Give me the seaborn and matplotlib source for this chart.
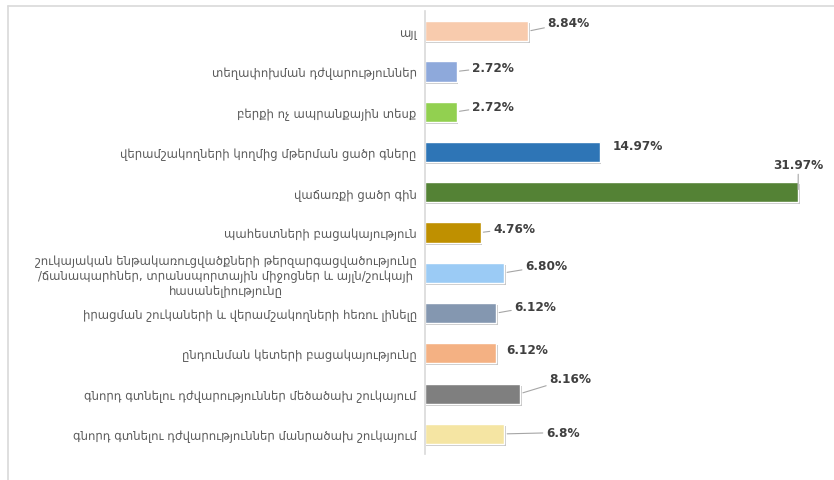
import matplotlib
matplotlib.use("Agg")
import matplotlib.pyplot as plt
import matplotlib.patheffects as pe
import seaborn as sns
import pandas as pd

# categories top to bottom, as in the chart
categories = [
    "այլ",
    "տեղափոխման դժվարություններ",
    "բերքի ոչ ապրանքային տեսք",
    "վերամշակողների կողմից մթերման ցածր գները",
    "վաճառքի ցածր գին",
    "պահեստների բացակայություն",
    "շուկայական ենթակառուցվածքների թերզարգացվածությունը\n/ճանապարհներ, տրանսպորտային միջոցներ և այլն/շուկայի\nհասանելիությունը",
    "իրացման շուկաների և վերամշակողների հեռու լինելը",
    "ընդունման կետերի բացակայությունը",
    "գնորդ գտնելու դժվարություններ մեծածախ շուկայում",
    "գնորդ գտնելու դժվարություններ մանրածախ շուկայում",
]
values = [8.84, 2.72, 2.72, 14.97, 31.97, 4.76, 6.80, 6.12, 6.12, 8.16, 6.8]
value_labels = ["8.84%", "2.72%", "2.72%", "14.97%", "31.97%", "4.76%",
                "6.80%", "6.12%", "6.12%", "8.16%", "6.8%"]
colors = ["#F8CBAD", "#8EA9DB", "#92D050", "#2E75B6", "#548235", "#BF9000",
          "#9BCBF5", "#8497B0", "#F4B183", "#7F7F7F", "#F5E5A3"]

# label offsets in points (dx, dy) from bar end, and whether a leader line is drawn
offsets = [(14, 6), (11, 3), (11, 4), (9, 5), (-18, 20), (9, 3),
           (15, 5), (13, 5), (7, 3), (21, 11), (30, 1)]
leaders = [True, True, True, False, True, True, True, True, False, True, True]

df = pd.DataFrame({"cat": categories, "val": values})

sns.set_style("white")
plt.rcParams["font.family"] = ["DejaVu Sans"]

fig = plt.figure(figsize=(8.34, 4.81), dpi=100)
ax = fig.add_axes([0.5096, 0.054, 0.48, 0.921])

sns.barplot(data=df, y="cat", x="val", hue="cat", palette=colors,
            legend=False, width=0.5, ax=ax, saturation=1)

for p in ax.patches:
    p.set_path_effects([pe.SimplePatchShadow(offset=(1, -1.5), alpha=0.45,
                                             shadow_rgbFace="#7F7F7F"),
                        pe.Normal()])

ax.set_xlim(0, 34.3)
ax.set_ylim(10.5, -0.5)
ax.set_xlabel("")
ax.set_ylabel("")
ax.set_xticks([])
for s in ["top", "right", "bottom"]:
    ax.spines[s].set_visible(False)
ax.spines["left"].set_color("#D9D9D9")
ax.spines["left"].set_linewidth(1.2)
ax.tick_params(axis="y", length=0, pad=6)
for t in ax.get_yticklabels():
    t.set_fontsize(8.4)
    t.set_color("#595959")
    t.set_multialignment("center")

for i, (v, lab) in enumerate(zip(values, value_labels)):
    dx, dy = offsets[i]
    props = dict(arrowstyle="-", color="#A6A6A6", lw=0.8,
                 shrinkA=0, shrinkB=2) if leaders[i] else None
    ax.annotate(lab, xy=(v, i), xytext=(dx, dy), textcoords="offset points",
                ha="left", va="center", fontsize=8.7, fontweight="bold",
                color="#404040", arrowprops=props)

# light frame lines along the top and left of the picture
fig.add_artist(plt.Line2D([0.009, 1.0], [0.985, 0.985], color="#D9D9D9", lw=1.2))
fig.add_artist(plt.Line2D([0.009, 0.009], [0.0, 0.985], color="#D9D9D9", lw=1.2))

fig.savefig("out.png", dpi=100)
